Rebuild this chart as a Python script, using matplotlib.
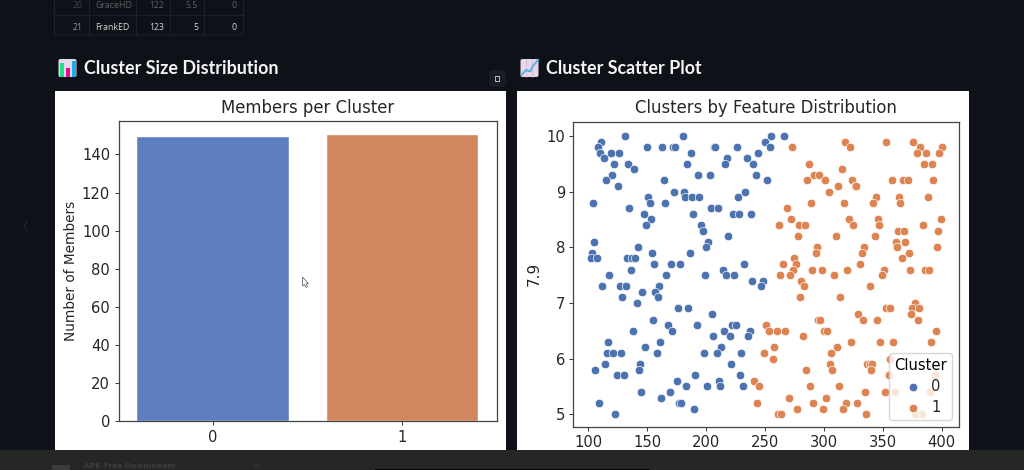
import numpy as np
import matplotlib
matplotlib.use("Agg")
import matplotlib.pyplot as plt
from matplotlib.patches import Rectangle, FancyBboxPatch, Polygon

# bar chart
clusters = ["0", "1"]
members = [149, 150]

# scatter, cluster 0
blue_x = [131, 180, 255, 266,
          111, 250,
          108, 150, 163, 172, 174, 207, 208, 226, 254,
          110, 119, 126, 187, 244,
          113, 218, 235,
          122, 134, 184, 216, 240,
          139,
          120, 193, 203, 242,
          115, 164, 252,
          125,
          173, 181, 233,
          151, 182, 188, 194, 227,
          104, 152, 165,
          135, 204, 210,
          147, 189, 223, 228, 238,
          153,
          149, 196,
          197,
          219,
          105, 202,
          142, 200,
          103, 154, 186,
          102, 107, 133, 137, 140,
          156, 170, 178, 232,
          136, 214,
          118, 166, 199, 217, 224,
          239, 248,
          112, 127, 132, 160, 247,
          146, 157,
          129, 159,
          141,
          176, 185,
          205,
          155,
          168, 192, 222, 225,
          138, 171, 215, 237,
          206, 220, 236,
          117, 161,
          148, 213,
          116, 121, 128, 158, 198, 209, 230,
          114, 144, 221,
          106, 143,
          124, 130, 191, 229,
          175, 211,
          183, 201, 212, 231,
          145, 169,
          162,
          109, 177, 179,
          190,
          123]
blue_y = [10.0, 10.0, 10.0, 10.0,
          9.9, 9.9,
          9.8, 9.8, 9.8, 9.8, 9.8, 9.8, 9.8, 9.8, 9.8,
          9.7, 9.7, 9.7, 9.7, 9.7,
          9.6, 9.6, 9.6,
          9.5, 9.5, 9.5, 9.5, 9.5,
          9.4,
          9.3, 9.3, 9.3, 9.3,
          9.2, 9.2, 9.2,
          9.1,
          9.0, 9.0, 9.0,
          8.9, 8.9, 8.9, 8.9, 8.9,
          8.8, 8.8, 8.8,
          8.7, 8.7, 8.7,
          8.6, 8.6, 8.6, 8.6, 8.6,
          8.5,
          8.4, 8.4,
          8.3,
          8.2,
          8.1, 8.1,
          8.0, 8.0,
          7.9, 7.9, 7.9,
          7.8, 7.8, 7.8, 7.8, 7.8,
          7.7, 7.7, 7.7, 7.7,
          7.6, 7.6,
          7.5, 7.5, 7.5, 7.5, 7.5,
          7.4, 7.4,
          7.3, 7.3, 7.3, 7.3, 7.3,
          7.2, 7.2,
          7.1, 7.1,
          7.0,
          6.9, 6.9,
          6.8,
          6.7,
          6.6, 6.6, 6.6, 6.6,
          6.5, 6.5, 6.5, 6.5,
          6.4, 6.4, 6.4,
          6.3, 6.3,
          6.2, 6.2,
          6.1, 6.1, 6.1, 6.1, 6.1, 6.1, 6.1,
          5.9, 5.9, 5.9,
          5.8, 5.8,
          5.7, 5.7, 5.7, 5.7,
          5.6, 5.6,
          5.5, 5.5, 5.5, 5.5,
          5.4, 5.4,
          5.3,
          5.2, 5.2, 5.2,
          5.1,
          5.0]

# scatter, cluster 1
orange_x = [318, 353, 376,
            273, 322, 382, 400,
            379, 387, 398,
            287, 385, 392,
            315,
            292, 296,
            286, 301, 324, 358, 367, 371, 393,
            312, 326, 327,
            304,
            344, 364, 388,
            289, 317, 342, 365,
            269,
            272, 321, 346, 399,
            262, 279, 284, 325, 347, 384,
            363, 368, 397,
            278, 310, 343,
            361, 369,
            294, 334, 362, 396,
            293, 332, 372,
            275, 366,
            265, 276, 331,
            274, 290, 298, 320, 351, 373, 386, 389,
            263, 271, 309, 349,
            281,
            283, 339,
            280, 314,
            377,
            353, 356, 375, 381,
            329, 374,
            295, 297, 333, 345, 380,
            251,
            253, 260, 267, 300, 303, 395,
            282,
            323, 348, 359, 391,
            258, 311,
            249, 306,
            257, 356,
            305, 337, 339, 341,
            285, 307, 340,
            355, 394,
            241,
            245, 288, 313,
            335, 352, 360, 390,
            270, 302,
            243, 291, 319, 328,
            277, 299, 316,
            261, 264, 336, 377, 383]
orange_y = [9.9, 9.9, 9.9,
            9.8, 9.8, 9.8, 9.8,
            9.7, 9.7, 9.7,
            9.5, 9.5, 9.5,
            9.4,
            9.3, 9.3,
            9.2, 9.2, 9.2, 9.2, 9.2, 9.2, 9.2,
            9.1, 9.1, 9.1,
            9.0,
            8.9, 8.9, 8.9,
            8.8, 8.8, 8.8, 8.8,
            8.7,
            8.5, 8.5, 8.5, 8.5,
            8.4, 8.4, 8.4, 8.4, 8.4, 8.4,
            8.3, 8.3, 8.3,
            8.2, 8.2, 8.2,
            8.1, 8.1,
            8.0, 8.0, 8.0, 8.0,
            7.9, 7.9, 7.9,
            7.8, 7.8,
            7.7, 7.7, 7.7,
            7.6, 7.6, 7.6, 7.6, 7.6, 7.6, 7.6, 7.6,
            7.5, 7.5, 7.5, 7.5,
            7.4,
            7.3, 7.3,
            7.1, 7.1,
            7.0,
            6.9, 6.9, 6.9, 6.9,
            6.8, 6.8,
            6.7, 6.7, 6.7, 6.7, 6.7,
            6.6,
            6.5, 6.5, 6.5, 6.5, 6.5, 6.5,
            6.4,
            6.3, 6.3, 6.3, 6.3,
            6.2, 6.2,
            6.1, 6.1,
            6.0, 6.0,
            5.9, 5.9, 5.9, 5.9,
            5.8, 5.8, 5.8,
            5.7, 5.7,
            5.6,
            5.5, 5.5, 5.5,
            5.4, 5.4, 5.4, 5.4,
            5.3, 5.3,
            5.2, 5.2, 5.2, 5.2,
            5.1, 5.1, 5.1,
            5.0, 5.0, 5.0, 5.0, 5.0]

# table row left over at the top of the screenshot
table_rows = [["20", "GraceHD", "122", "5.5", "0"],
              ["21", "FrankED", "123", "5", "0"]]

W, H = 1024, 470
BG = "#0e1117"
INK = "#262626"


def axes_px(left, top, right, bottom):
    # pixel box -> figure fractions
    return [left / W, 1 - bottom / H, (right - left) / W, (bottom - top) / H]


fig = plt.figure(figsize=(W / 100, H / 100), dpi=100, facecolor=BG)

# page behind the charts, drawn in screen pixels
page = fig.add_axes([0, 0, 1, 1], zorder=0)
page.set_xlim(0, W)
page.set_ylim(H, 0)
page.axis("off")

page.add_patch(Rectangle((54.5, 91), 451.5, 359, fc="white", ec="none"))
page.add_patch(Rectangle((517, 91), 452, 359, fc="white", ec="none"))

# table stub
line_c = "#1e2128"
page.add_patch(FancyBboxPatch((54.5, -10), 189, 45, boxstyle="round,pad=0,rounding_size=3",
                              fc="none", ec=line_c, lw=0.8))
page.plot([54.5, 243.5], [15, 15], color=line_c, lw=0.8)
for vx in [89, 135.5, 169.5, 203.5]:
    page.plot([vx, vx], [0, 35], color=line_c, lw=0.8)
cell_x = [83, 95, 164, 198, 237]
cell_ha = ["right", "left", "right", "right", "right"]
for row, ry, al in zip(table_rows, [5, 27], [0.4, 1.0]):
    for j, txt in enumerate(row):
        page.text(cell_x[j], ry, txt, ha=cell_ha[j], va="center", fontsize=6.3,
                  family="Open Sans", color="#8f9196" if j == 0 else "#d5d6d8", alpha=al)

# section headings
page.text(84.5, 68, "Cluster Size Distribution", ha="left", va="center", fontsize=12.85,
          family="Lato", fontweight="bold", color="#f4f4f5")
page.text(546.5, 68, "Cluster Scatter Plot", ha="left", va="center", fontsize=12.85,
          family="Lato", fontweight="bold", color="#f4f4f5")

# bar chart icon
page.add_patch(FancyBboxPatch((58.5, 59), 18, 18, boxstyle="round,pad=0,rounding_size=2",
                              fc="#e4d8ea", ec="none"))
page.add_patch(Rectangle((60, 63), 4, 13.5, fc="#1fe08a", ec="none"))
page.add_patch(Rectangle((66, 68), 4, 8.5, fc="#e0108e", ec="none"))
page.add_patch(Rectangle((72, 61), 4, 15.5, fc="#22aee8", ec="none"))

# line chart icon
page.add_patch(FancyBboxPatch((520.5, 59), 18, 18, boxstyle="round,pad=0,rounding_size=2",
                              fc="#e4d8ea", ec="none"))
for g in [526, 532]:
    page.plot([g, g], [59, 77], color="#c9aec9", lw=0.5)
    page.plot([520.5, 538.5], [g + 39, g + 39], color="#c9aec9", lw=0.5)
page.plot([521.5, 526, 530, 533, 538], [75, 70, 71.5, 66, 60], color="#5aaee6", lw=1.4)

# fullscreen button
page.add_patch(FancyBboxPatch((489, 70), 17, 17, boxstyle="round,pad=0,rounding_size=3",
                              fc="#191c24", ec="none"))
for cx, cy, dx, dy in [(495, 76, 1, 1), (499, 76, -1, 1), (495, 81, 1, -1), (499, 81, -1, -1)]:
    page.plot([cx + 2 * dx, cx, cx], [cy, cy, cy + 2 * dy], color="#d8d8d8", lw=0.6)

# faint carousel arrow
page.plot([27, 24, 27], [222, 226, 230], color="#23262c", lw=1)

# bar chart
ax1 = fig.add_axes(axes_px(118.5, 121, 497, 421.3), zorder=1)
ax1.bar([0, 1], members, width=0.8, color=["#5e7ec0", "#d2865e"], edgecolor="#ffffff", linewidth=0.3)
ax1.set_xlim(-0.5, 1.5)
ax1.set_ylim(0, 157.5)
ax1.set_xticks([0, 1], clusters)
ax1.set_yticks(range(0, 141, 20))
ax1.set_ylabel("Number of Members", fontsize=9.8, color=INK, labelpad=3)
ax1.set_title("Members per Cluster", fontsize=11.9, color=INK, pad=6)

# scatter
ax2 = fig.add_axes(axes_px(573.3, 121.5, 959, 427), zorder=1)
ax2.scatter(blue_x, blue_y, s=37, color="#4c72b0", edgecolor="white", linewidth=0.45, label="0")
ax2.scatter(orange_x, orange_y, s=37, color="#dd8452", edgecolor="white", linewidth=0.45, label="1")
ax2.set_xlim(87.3, 414.7)
ax2.set_ylim(4.77, 10.26)
ax2.set_xticks(range(100, 401, 50))
ax2.set_yticks(range(5, 11))
ax2.set_ylabel("7.9", fontsize=11, color=INK, labelpad=3)
ax2.set_title("Clusters by Feature Distribution", fontsize=11.9, color=INK, pad=6)
ax2.legend(title="Cluster", loc="lower right", fontsize=10.6, title_fontsize=10.6, labelcolor=INK,
           borderaxespad=0.45, handletextpad=0.45, labelspacing=0.4, borderpad=0.35, handlelength=1.55)

for ax in [ax1, ax2]:
    ax.tick_params(labelsize=10.6, labelcolor=INK, length=3, width=0.7, color="#333333", pad=3)
    for s in ax.spines.values():
        s.set_color("#444444")
        s.set_linewidth(0.9)

# top layer: browser strip at the bottom and the mouse pointer
over = fig.add_axes([0, 0, 1, 1], zorder=2)
over.set_xlim(0, W)
over.set_ylim(H, 0)
over.axis("off")
over.patch.set_alpha(0)
over.add_patch(Rectangle((0, 450), W, 20, fc="#252727", ec="none"))
over.add_patch(Rectangle((375, 469), 275, 1, fc="#050505", ec="none"))
over.add_patch(Rectangle((52, 465), 18, 5, fc="#3a3c3c", ec="none"))
over.text(84, 466, "APK Free Downloader", ha="left", va="center", fontsize=5.4, fontweight="bold",
          color="#3c3e3e")
over.text(252, 466, "En", ha="left", va="center", fontsize=5.4, color="#383a3a")
over.add_patch(Polygon([(302.5, 277), (302.5, 286), (304.5, 284.5), (306, 287.5),
                        (307.5, 286.5), (306, 283.5), (308.5, 283.5)],
                       closed=True, fc="white", ec="#808080", lw=0.7))

fig.savefig("out.png", dpi=100, facecolor=BG)
